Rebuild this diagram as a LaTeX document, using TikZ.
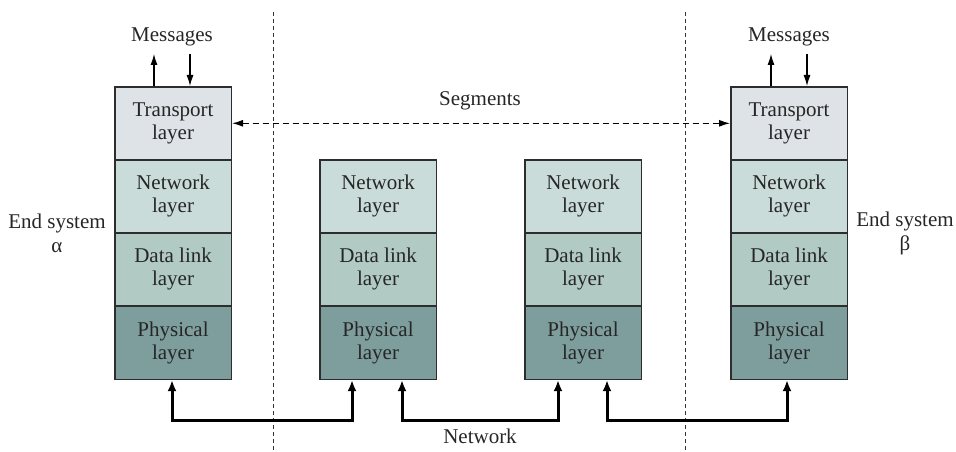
\documentclass[tikz,border=0pt]{standalone}
\usepackage{fontspec}
\setmainfont{Liberation Serif}
\usetikzlibrary{arrows.meta}
\definecolor{ctrans}{RGB}{221,227,230}
\definecolor{cnet}{RGB}{201,220,217}
\definecolor{cdl}{RGB}{177,202,196}
\definecolor{cphy}{RGB}{126,157,157}
\definecolor{cedge}{RGB}{45,45,45}
\tikzset{
  layerbox/.style={draw=cedge, line width=1.6pt, rectangle, minimum width=116.5pt, minimum height=73pt,
    inner sep=0pt, align=center, anchor=north west, font=\fontsize{21}{23}\selectfont, text=black!85},
  lbl/.style={font=\fontsize{21}{24}\selectfont, align=center, inner sep=0pt, text=black!85},
  msg/.style={line width=1.1pt, -{Latex[length=11pt,width=7pt]}},
  net/.style={line width=3pt, {Latex[length=11pt,width=9pt]}-{Latex[length=11pt,width=9pt]}},
  seg/.style={line width=1.1pt, dash pattern=on 6pt off 4pt, {Latex[length=11pt,width=7pt]}-{Latex[length=11pt,width=7pt]}},
  divider/.style={line width=0.8pt, dash pattern=on 4pt off 3pt, draw=black!80}
}
\begin{document}
\begin{tikzpicture}[x=1pt,y=-1pt]
\useasboundingbox (0,0) rectangle (956,452);
% dividers
\coordinate (v1t) at (273,12); \coordinate (v1b) at (273,452);
\coordinate (v2t) at (685,12); \coordinate (v2b) at (685,452);
\draw[divider] (v1t) -- (v1b);
\draw[divider] (v2t) -- (v2b);
% stack 1
\node[layerbox, fill=ctrans] (t1) at (114,86) {Transport\\layer};
\node[layerbox, fill=cnet] (n1) at (114,159) {Network\\layer};
\node[layerbox, fill=cdl] (d1) at (114,232) {Data link\\layer};
\node[layerbox, fill=cphy] (p1) at (114,305.5) {Physical\\layer};
% stack 2
\node[layerbox, fill=cnet] (n2) at (319,159) {Network\\layer};
\node[layerbox, fill=cdl] (d2) at (319,232) {Data link\\layer};
\node[layerbox, fill=cphy] (p2) at (319,305.5) {Physical\\layer};
% stack 3
\node[layerbox, fill=cnet] (n3) at (524,159) {Network\\layer};
\node[layerbox, fill=cdl] (d3) at (524,232) {Data link\\layer};
\node[layerbox, fill=cphy] (p3) at (524,305.5) {Physical\\layer};
% stack 4
\node[layerbox, fill=ctrans] (t4) at (730,86) {Transport\\layer};
\node[layerbox, fill=cnet] (n4) at (730,159) {Network\\layer};
\node[layerbox, fill=cdl] (d4) at (730,232) {Data link\\layer};
\node[layerbox, fill=cphy] (p4) at (730,305.5) {Physical\\layer};
% labels
\node[lbl] (m1) at (172,37) {Messages};
\node[lbl] (m4) at (789,37) {Messages};
\node[lbl] (seg) at (480,101) {Segments};
\node[lbl] (netlbl) at (480,436) {Network};
\node[lbl] (esa) at (57,233) {End system\\α};
\node[lbl] (esb) at (905,233) {End system\\β};
% messages arrows
\coordinate (m1u) at (154,54); \coordinate (m1d) at (190,54);
\coordinate (m4u) at (771,54); \coordinate (m4d) at (807,54);
\draw[msg] (t1.north -| m1u) -- (m1u);
\draw[msg] (m1d) -- (t1.north -| m1d);
\draw[msg] (t4.north -| m4u) -- (m4u);
\draw[msg] (m4d) -- (t4.north -| m4d);
% segments
\draw[seg] (t1.east) -- (t4.west);
% network links
\coordinate (a1) at (172,420); \coordinate (a2) at (352,420);
\coordinate (b1) at (402,420); \coordinate (b2) at (558,420);
\coordinate (c1) at (607,420); \coordinate (c2) at (787,420);
\draw[net] (p1.south -| a1) -- (a1) -- (a2) -- (p2.south -| a2);
\draw[net] (p2.south -| b1) -- (b1) -- (b2) -- (p3.south -| b2);
\draw[net] (p3.south -| c1) -- (c1) -- (c2) -- (p4.south -| c2);
\end{tikzpicture}
\end{document}
